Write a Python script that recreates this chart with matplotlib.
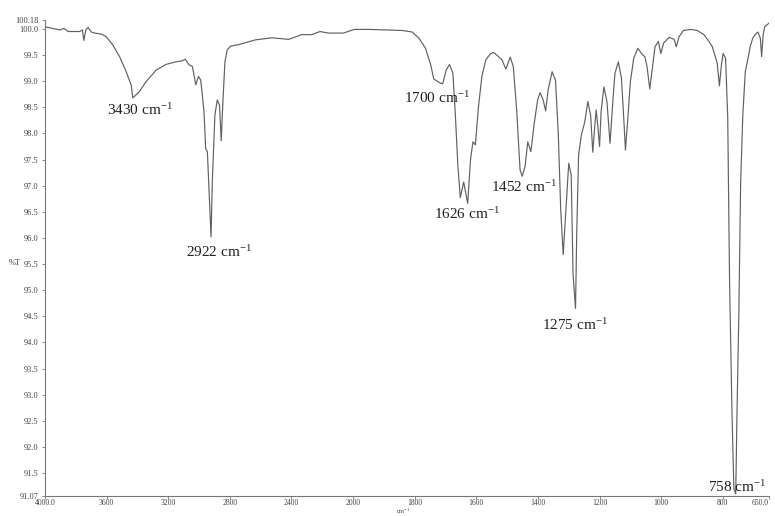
import numpy as np
import matplotlib
matplotlib.use("Agg")
import matplotlib.pyplot as plt

# ── Data ─────────────────────────────────────────────────────────────
wavenumber = [
    4000, 3968, 3903, 3877, 3850, 3774, 3757, 3748, 3735, 3720, 3699, 3677,
    3634, 3602, 3559, 3516, 3477, 3441, 3430, 3387, 3344, 3279, 3215, 3150,
    3108, 3090, 3064, 3043, 3021, 3004, 2989, 2968, 2957, 2946, 2922, 2914,
    2897, 2882, 2867, 2856, 2845, 2832, 2817, 2795, 2742, 2634, 2527, 2419,
    2333, 2269, 2215, 2161, 2064, 1996, 1947, 1894, 1840, 1808, 1786, 1765,
    1748, 1738, 1716, 1709, 1698, 1687, 1676, 1668, 1660, 1652, 1641, 1628,
    1619, 1611, 1603, 1593, 1582, 1569, 1555, 1544, 1534, 1517, 1504, 1490,
    1480, 1469, 1458, 1451, 1442, 1433, 1423, 1412, 1401, 1393, 1383, 1375,
    1367, 1354, 1343, 1334, 1326, 1318, 1300, 1292, 1286, 1278, 1274, 1268,
    1259, 1248, 1238, 1229, 1222, 1216, 1211, 1206, 1200, 1195, 1186, 1176,
    1166, 1157, 1150, 1139, 1129, 1122, 1116, 1109, 1100, 1089, 1076, 1060,
    1053, 1046, 1037, 1028, 1020, 1009, 1001, 992, 974, 958, 951, 942,
    928, 904, 883, 861, 845, 834, 818, 811, 805, 799, 791, 784,
    778, 770, 764, 758, 754, 748, 742, 735, 727, 718, 711, 703,
    695, 686, 678, 674, 669, 664, 650,
]
transmittance = [
    100.04, 100.02, 99.98, 100.01, 99.95, 99.95, 99.98, 99.78, 99.98, 100.03, 99.94, 99.92,
    99.90, 99.85, 99.69, 99.47, 99.21, 98.93, 98.68, 98.80, 98.99, 99.21, 99.32, 99.37,
    99.39, 99.42, 99.31, 99.28, 98.93, 99.09, 99.02, 98.42, 97.71, 97.65, 96.02, 97.07,
    98.35, 98.64, 98.54, 97.86, 98.61, 99.37, 99.60, 99.67, 99.70, 99.79, 99.83, 99.80,
    99.89, 99.89, 99.95, 99.92, 99.92, 99.99, 99.99, 99.98, 99.97, 99.94, 99.82, 99.63,
    99.31, 99.04, 98.96, 98.95, 99.21, 99.32, 99.15, 98.35, 97.39, 96.77, 97.07, 96.66,
    97.49, 97.84, 97.78, 98.51, 99.09, 99.41, 99.52, 99.55, 99.50, 99.41, 99.23, 99.46,
    99.28, 98.45, 97.30, 97.18, 97.36, 97.84, 97.65, 98.19, 98.64, 98.78, 98.64, 98.43,
    98.83, 99.18, 99.02, 98.00, 96.53, 95.68, 97.43, 97.20, 95.30, 94.65, 96.12, 97.59,
    97.97, 98.22, 98.61, 98.35, 97.64, 98.10, 98.45, 98.16, 97.75, 98.42, 98.89, 98.61,
    97.81, 98.61, 99.15, 99.37, 99.06, 98.35, 97.68, 98.22, 98.99, 99.44, 99.63, 99.50,
    99.47, 99.28, 98.85, 99.28, 99.66, 99.76, 99.53, 99.73, 99.84, 99.80, 99.66, 99.85,
    99.97, 99.99, 99.97, 99.89, 99.76, 99.66, 99.34, 98.91, 99.28, 99.53, 99.44, 98.32,
    95.16, 92.61, 91.20, 91.10, 92.61, 94.52, 97.07, 98.35, 99.18, 99.44, 99.66, 99.82,
    99.89, 99.94, 99.82, 99.47, 99.89, 100.04, 100.11,
]
assert len(wavenumber) == len(transmittance)

# peak labels: (text, wavenumber, %T) of the label centre
peak_labels = ["3430", "2922", "1700", "1626", "1452", "1275", "758"]
label_wn = [3381, 2871, 1728, 1631, 1447, 1280, 755]
label_t = [98.45, 95.73, 98.68, 96.46, 96.97, 94.33, 91.23]

x_ticks = [4000, 3600, 3200, 2800, 2400, 2000, 1800, 1600, 1400, 1200, 1000, 800, 650]
x_tick_labels = ["4000.0", "3600", "3200", "2800", "2400", "2000", "1800", "1600",
                 "1400", "1200", "1000", "800", "650.0"]
y_ticks = [91.07, 91.5, 92.0, 92.5, 93.0, 93.5, 94.0, 94.5, 95.0, 95.5, 96.0,
           96.5, 97.0, 97.5, 98.0, 98.5, 99.0, 99.5, 100.0, 100.18]
y_tick_labels = ["91.07", "91.5", "92.0", "92.5", "93.0", "93.5", "94.0", "94.5",
                 "95.0", "95.5", "96.0", "96.5", "97.0", "97.5", "98.0", "98.5",
                 "99.0", "99.5", "100.0", "100.18"]


# instrument-style axis: scale doubles below 2000 cm-1
def fwd(w):
    w = np.asarray(w, dtype=float)
    return np.where(w >= 2000, 2000 + (w - 2000) / 2, w)


def inv(t):
    t = np.asarray(t, dtype=float)
    return np.where(t >= 2000, 2000 + 2 * (t - 2000), t)


plt.rcParams["font.family"] = ["Liberation Serif", "DejaVu Serif"]
plt.rcParams["mathtext.default"] = "regular"

fig = plt.figure(figsize=(7.75, 5.16), dpi=100)
ax = fig.add_axes([45 / 775, 20.5 / 516, 724 / 775, 476 / 516])

ax.plot(wavenumber, transmittance, color="#606060", lw=0.85)

ax.set_xscale("function", functions=(fwd, inv))
ax.set_xlim(4000, 650)
ax.set_ylim(91.07, 100.18)

for txt, w, t in zip(peak_labels, label_wn, label_t):
    ax.text(w, t, txt + " cm$^{-1}$", fontsize=11, color="#222222",
            ha="center", va="center")

ax.set_xticks(x_ticks)
ax.set_xticklabels(x_tick_labels)
ax.set_yticks(y_ticks)
ax.set_yticklabels(y_tick_labels)
ax.xaxis.set_minor_locator(matplotlib.ticker.NullLocator())
ax.tick_params(length=2.5, width=0.6, color="#777777", labelsize=6,
               labelcolor="#444444", pad=2)
ax.tick_params(axis="x", length=2, pad=0.8, labelsize=5.5)
# last tick label sits at the right edge; keep it inside the figure
ax.get_xticklabels()[-1].set_horizontalalignment("right")

for side in ("top", "right"):
    ax.spines[side].set_visible(False)
for side in ("left", "bottom"):
    ax.spines[side].set_color("#777777")
    ax.spines[side].set_linewidth(0.8)

fig.text(15 / 775, 1 - 263 / 516, "%T", fontsize=6, color="#444444",
         ha="center", va="center")
fig.text(403 / 775, 0.0, "cm$^{-1}$", fontsize=4.5, color="#444444",
         ha="center", va="bottom")

fig.savefig("out.png", dpi=100)
